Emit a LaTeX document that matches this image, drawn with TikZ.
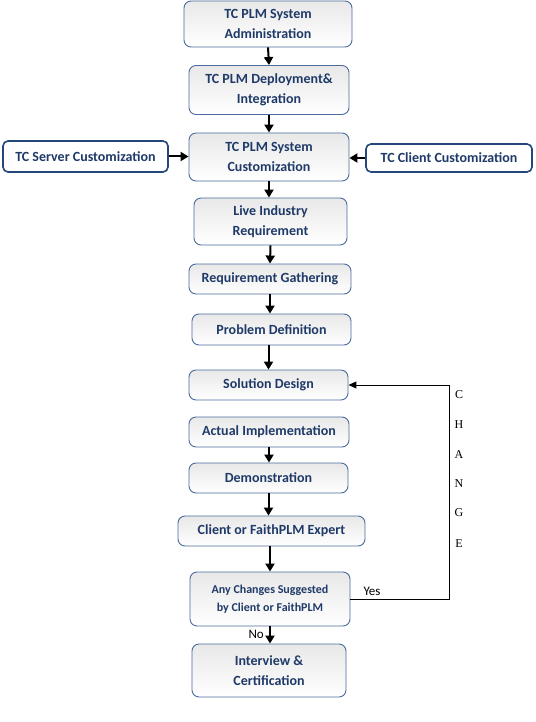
\documentclass[tikz,border=0pt]{standalone}
\usepackage{fontspec}
\setmainfont{Carlito}
\newfontfamily\serifchg{Liberation Serif}
\usetikzlibrary{arrows.meta}
\definecolor{txtblue}{HTML}{1F3A68}
\definecolor{bdblue}{HTML}{4A6C9E}
\definecolor{bddark}{HTML}{24467A}
\tikzset{
  box/.style={draw=bdblue, line width=0.9pt, rounded corners=7pt, top color=black!9, bottom color=white,
    align=center, text=txtblue, font=\fontsize{14}{20.5}\selectfont\bfseries, inner sep=0pt},
  sidebox/.style={draw=bddark, line width=1.6pt, rounded corners=5pt, fill=white,
    align=center, text=txtblue, font=\fontsize{14}{20.5}\selectfont\bfseries, inner sep=0pt},
  arr/.style={-{Triangle[length=8pt,width=9pt]}, line width=2pt, black},
  thinarr/.style={-{Triangle[length=8pt,width=7pt]}, line width=1pt, black},
  lbl/.style={font=\fontsize{13}{15}\selectfont, text=black, inner sep=0pt},
  chg/.style={font=\serifchg\fontsize{12}{14}\selectfont, text=black, inner sep=0pt}
}
\begin{document}
\begin{tikzpicture}[x=1pt,y=-1pt]
\useasboundingbox (0,0) rectangle (535,722);
\node[box, minimum width=168pt, minimum height=46pt] (adm) at (268,24) {TC PLM System\\Administration};
\node[box, minimum width=160pt, minimum height=49pt] (dep) at (269,90) {TC PLM Deployment\&\\Integration};
\node[box, minimum width=160pt, minimum height=48pt] (cus) at (269,157) {TC PLM System\\Customization};
\node[sidebox, minimum width=165pt, minimum height=31pt] (srv) at (85.5,156.5) {TC Server Customization};
\node[sidebox, minimum width=166pt, minimum height=28pt] (cli) at (449,158) {TC Client Customization};
\node[box, minimum width=153pt, minimum height=47pt] (live) at (270.5,221.5) {Live Industry\\Requirement};
\node[box, minimum width=162pt, minimum height=30pt] (req) at (270,279) {Requirement Gathering};
\node[box, minimum width=159pt, minimum height=31pt] (prob) at (271.5,329.5) {Problem Definition};
\node[box, minimum width=159pt, minimum height=30pt] (sol) at (268.5,385) {Solution Design};
\node[box, minimum width=160pt, minimum height=30pt] (act) at (269,432) {Actual Implementation};
\node[box, minimum width=159pt, minimum height=30pt] (demo) at (268.5,478) {Demonstration};
\node[box, minimum width=187pt, minimum height=30pt] (exp) at (271.5,531) {Client or FaithPLM Expert};
\node[box, minimum width=160pt, minimum height=54pt, font=\fontsize{12}{18}\selectfont\bfseries] (any) at (270,599) {Any Changes Suggested\\by Client or FaithPLM};
\node[box, minimum width=154pt, minimum height=53pt] (intv) at (269,670.5) {Interview \&\\Certification};

\draw[arr] (adm.south) -- (dep.north);
\draw[arr] (dep.south) -- (cus.north);
\draw[arr] (srv.east) -- (cus.west |- srv.east);
\draw[arr] (cli.west) -- (cus.east |- cli.west);
\draw[arr] (cus.south) -- (live.north -| cus.south);
\draw[arr] (live.south) -- (req.north);
\draw[arr] (req.south) -- (prob.north -| req.south);
\draw[arr] (prob.south -| sol.north) -- (sol.north);
\draw[arr] (act.south) -- (demo.north -| act.south);
\draw[arr] (demo.south) -- (exp.north -| demo.south);
\draw[arr] (exp.south -| any.north) -- (any.north);
\draw[arr] (any.south) -- (intv.north -| any.south);

\coordinate (fbx) at (449,0);
\draw[thinarr] (any.east) -| (fbx |- sol.east) -- (sol.east);

\node[lbl] (yes) at (372,591) {Yes};
\node[lbl, anchor=east] (no) at (264,634) {No};

\node[chg] (c1) at (459,395) {C};
\node[chg] (c2) at (459,425) {H};
\node[chg] (c3) at (459,455) {A};
\node[chg] (c4) at (459,484) {N};
\node[chg] (c5) at (459,513) {G};
\node[chg] (c6) at (459,544) {E};
\end{tikzpicture}
\end{document}
